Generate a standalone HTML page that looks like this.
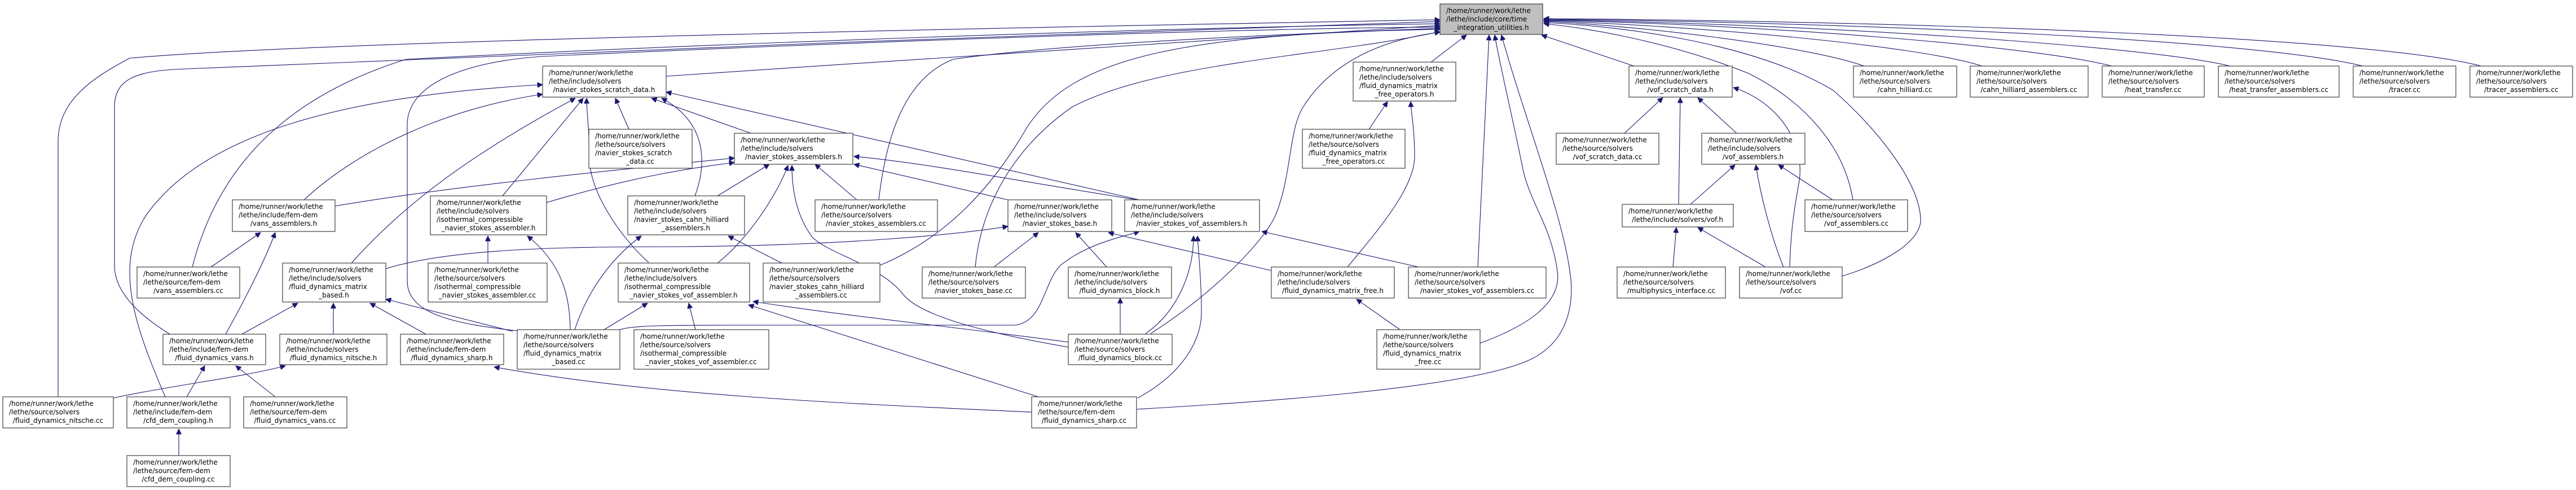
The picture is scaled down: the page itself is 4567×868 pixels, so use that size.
<!DOCTYPE html>
<html><head><meta charset="utf-8"><style>
html,body{margin:0;padding:0;background:#fff;}
svg{display:block}
text{font-family:"DejaVu Sans","Liberation Sans",sans-serif;font-size:12px;fill:#000}
.n{fill:#fff;stroke:#404040;stroke-width:1.2}
.e{fill:none;stroke:#191970;stroke-width:1.1;marker-end:url(#ah)}
.m{text-anchor:middle}
</style></head><body>
<svg width="4567" height="868" viewBox="0 0 4567 868" xmlns="http://www.w3.org/2000/svg">
<defs><marker id="ah" viewBox="0 0 10 10" refX="10" refY="5" markerWidth="11" markerHeight="9" markerUnits="userSpaceOnUse" orient="auto"><path d="M0,0 L10,5 L0,10 z" fill="#191970" stroke="#191970"/></marker></defs>

<!-- edges to root -->
<path class="e" d="M103,703 L103,250 C103,180 160,140 230,103 C600,70 2000,45 2553,35"/>
<path class="e" d="M301,592 C250,560 203,520 203,470 L203,190 C203,140 240,125 330,122 C800,100 2000,55 2553,38"/>
<path class="e" d="M341,473 C380,320 480,180 720,105 C1200,80 2000,50 2553,42"/>
<path class="e" d="M1181,135 C1700,100 2300,60 2553,45"/>
<path class="e" d="M917,586 C820,575 722,560 722,498 L722,221 C722,150 820,110 960,100 C1500,75 2200,50 2553,48"/>
<path class="e" d="M1558,354 C1570,250 1600,140 1690,105 C1900,75 2300,60 2553,50"/>
<path class="e" d="M1729,473 C1740,360 1800,260 1900,190 C2050,110 2350,100 2553,56"/>
<path class="e" d="M1560,470 C1680,420 1760,330 1820,227 C1900,100 2100,60 2553,52"/>
<path class="e" d="M2040,591 C2150,520 2240,430 2262,380 C2290,310 2285,230 2310,190 C2360,110 2450,70 2553,57"/>
<path class="e" d="M2537,110 L2600,62"/>
<path class="e" d="M2620,473 L2640,62"/>
<path class="e" d="M2624,608 C2700,580 2770,540 2761,480 C2750,400 2713,360 2700,300 C2680,200 2660,120 2650,62"/>
<path class="e" d="M2015,725 C2200,714 2600,690 2713,637 C2790,600 2790,520 2783,480 C2770,380 2700,200 2662,62"/>
<path class="e" d="M2897,117 L2733,62"/>
<path class="e" d="M3285,354 C3270,260 3200,180 3100,130 C2950,70 2800,48 2737,42"/>
<path class="e" d="M3266,489 C3330,470 3410,430 3405,385 C3400,320 3330,230 3250,160 C3100,70 2850,45 2737,40"/>
<path class="e" d="M3305,117 C3200,80 2900,45 2737,38"/>
<path class="e" d="M3514,117 C3400,80 3000,45 2737,37"/>
<path class="e" d="M3744,117 C3600,80 3100,42 2737,36"/>
<path class="e" d="M3954,117 C3800,80 3200,42 2737,35"/>
<path class="e" d="M4189,117 C4000,70 3300,40 2737,34"/>
<path class="e" d="M4399,117 C4200,65 3400,38 2737,33"/>

<!-- other edges -->
<path class="e" d="M293,703 C240,580 200,470 260,380 C360,240 600,170 962,150"/>
<path class="e" d="M539,354 C640,260 800,190 962,167"/>
<path class="e" d="M1115,229 L1091,174"/>
<path class="e" d="M1331,236 L1155,174"/>
<path class="e" d="M1232,347 C1250,300 1260,220 1173,174"/>
<path class="e" d="M2020,354 L1181,163"/>
<path class="e" d="M891,347 L1034,174"/>
<path class="e" d="M623,466 C700,380 807,288 1020,174"/>
<path class="e" d="M1150,465 C1100,420 1045,340 1045,280 C1045,230 1040,200 1040,174"/>
<path class="e" d="M968,359 C1100,320 1200,300 1302,288"/>
<path class="e" d="M594,365 C800,330 1100,300 1302,280"/>
<path class="e" d="M684,476 C800,440 1000,437 1200,437 C1500,435 1700,415 1787,401"/>
<path class="e" d="M909,587 L684,530"/>
<path class="e" d="M1011,584 C1010,530 1000,470 935,418"/>
<path class="e" d="M1019,584 C1040,520 1080,460 1137,418"/>
<path class="e" d="M1071,584 L1148,537"/>
<path class="e" d="M1099,584 C1120,576 1200,576 1300,576 L1800,576 C1850,570 1850,500 1880,470 C1930,430 1990,420 2020,410"/>
<path class="e" d="M374,473 L462,412"/>
<path class="e" d="M400,592 C440,520 470,460 488,412"/>
<path class="e" d="M429,592 L528,537"/>
<path class="e" d="M591,592 L591,537"/>
<path class="e" d="M755,592 L656,537"/>
<path class="e" d="M201,705 C320,680 420,670 506,648"/>
<path class="e" d="M331,703 L363,648"/>
<path class="e" d="M488,703 L418,648"/>
<path class="e" d="M317,807 L317,760"/>
<path class="e" d="M1829,730 C1500,715 1150,700 876,650"/>
<path class="e" d="M865,466 L865,418"/>
<path class="e" d="M1272,347 L1364,291"/>
<path class="e" d="M1272,466 C1330,420 1380,340 1397,293"/>
<path class="e" d="M1519,354 L1445,291"/>
<path class="e" d="M1787,354 L1514,291"/>
<path class="e" d="M2017,354 C1800,320 1650,290 1514,277"/>
<path class="e" d="M1386,466 L1291,418"/>
<path class="e" d="M1894,615 C1750,590 1630,560 1600,520 C1560,470 1470,450 1440,420 C1410,380 1404,330 1404,293"/>
<path class="e" d="M1233,584 L1221,537"/>
<path class="e" d="M1894,606 C1700,580 1500,560 1335,534"/>
<path class="e" d="M1841,703 L1327,540"/>
<path class="e" d="M1762,473 L1841,412"/>
<path class="e" d="M1962,473 L1907,412"/>
<path class="e" d="M1986,592 L1986,528"/>
<path class="e" d="M2031,591 C2090,550 2116,480 2116,418"/>
<path class="e" d="M2017,705 C2100,660 2130,600 2130,554 C2130,500 2125,450 2123,418"/>
<path class="e" d="M2515,473 L2237,410"/>
<path class="e" d="M2253,479 L1965,412"/>
<path class="e" d="M2427,229 L2460,180"/>
<path class="e" d="M2389,473 C2450,400 2508,330 2508,277 C2508,230 2502,200 2501,180"/>
<path class="e" d="M2482,584 L2405,530"/>
<path class="e" d="M2880,236 L2948,173"/>
<path class="e" d="M2976,362 L2979,173"/>
<path class="e" d="M3079,236 L3010,173"/>
<path class="e" d="M3173,473 C3175,400 3183,360 3190,320 C3200,250 3150,180 3073,155"/>
<path class="e" d="M2997,362 L3076,292"/>
<path class="e" d="M3249,354 L3153,292"/>
<path class="e" d="M3162,473 C3140,420 3120,340 3113,292"/>
<path class="e" d="M2966,473 L2972,403"/>
<path class="e" d="M3130,473 L3010,403"/>

<!-- nodes -->
<g>
<rect x="2553" y="7" width="182" height="54" fill="#bfbfbf" stroke="#404040" stroke-width="1.2"/>
<text x="2564" y="23">/home/runner/work/lethe</text><text x="2564" y="38">/lethe/include/core/time</text><text class="m" x="2644" y="53">_integration_utilities.h</text>

<rect class="n" x="962" y="117" width="219" height="55"/>
<text x="973" y="133">/home/runner/work/lethe</text><text x="973" y="148">/lethe/include/solvers</text><text class="m" x="1071" y="163">/navier_stokes_scratch_data.h</text>

<rect class="n" x="1044" y="229" width="183" height="69"/>
<text x="1055" y="245">/home/runner/work/lethe</text><text x="1055" y="260">/lethe/source/solvers</text><text x="1055" y="275">/navier_stokes_scratch</text><text class="m" x="1135" y="290">_data.cc</text>

<rect class="n" x="412" y="354" width="182" height="56"/>
<text x="423" y="370">/home/runner/work/lethe</text><text x="423" y="385">/lethe/include/fem-dem</text><text class="m" x="503" y="400">/vans_assemblers.h</text>

<rect class="n" x="763" y="347" width="206" height="69"/>
<text x="774" y="363">/home/runner/work/lethe</text><text x="774" y="378">/lethe/include/solvers</text><text x="774" y="393">/isothermal_compressible</text><text class="m" x="866" y="408">_navier_stokes_assembler.h</text>

<rect class="n" x="243" y="473" width="182" height="55"/>
<text x="254" y="489">/home/runner/work/lethe</text><text x="254" y="504">/lethe/source/fem-dem</text><text class="m" x="334" y="519">/vans_assemblers.cc</text>

<rect class="n" x="501" y="466" width="183" height="69"/>
<text x="512" y="482">/home/runner/work/lethe</text><text x="512" y="497">/lethe/include/solvers</text><text x="512" y="512">/fluid_dynamics_matrix</text><text class="m" x="592" y="527">_based.h</text>

<rect class="n" x="759" y="466" width="211" height="69"/>
<text x="770" y="482">/home/runner/work/lethe</text><text x="770" y="497">/lethe/source/solvers</text><text x="770" y="512">/isothermal_compressible</text><text class="m" x="864" y="527">_navier_stokes_assembler.cc</text>

<rect class="n" x="289" y="592" width="182" height="54"/>
<text x="300" y="608">/home/runner/work/lethe</text><text x="300" y="623">/lethe/include/fem-dem</text><text class="m" x="380" y="638">/fluid_dynamics_vans.h</text>

<rect class="n" x="496" y="592" width="190" height="54"/>
<text x="507" y="608">/home/runner/work/lethe</text><text x="507" y="623">/lethe/include/solvers</text><text class="m" x="591" y="638">/fluid_dynamics_nitsche.h</text>

<rect class="n" x="710" y="592" width="183" height="54"/>
<text x="721" y="608">/home/runner/work/lethe</text><text x="721" y="623">/lethe/include/fem-dem</text><text class="m" x="801" y="638">/fluid_dynamics_sharp.h</text>

<rect class="n" x="917" y="584" width="182" height="70"/>
<text x="928" y="600">/home/runner/work/lethe</text><text x="928" y="615">/lethe/source/solvers</text><text x="928" y="630">/fluid_dynamics_matrix</text><text class="m" x="1008" y="645">_based.cc</text>

<rect class="n" x="5" y="703" width="196" height="55"/>
<text x="16" y="719">/home/runner/work/lethe</text><text x="16" y="734">/lethe/source/solvers</text><text class="m" x="103" y="749">/fluid_dynamics_nitsche.cc</text>

<rect class="n" x="225" y="703" width="183" height="55"/>
<text x="236" y="719">/home/runner/work/lethe</text><text x="236" y="734">/lethe/include/fem-dem</text><text class="m" x="316" y="749">/cfd_dem_coupling.h</text>

<rect class="n" x="432" y="703" width="183" height="55"/>
<text x="443" y="719">/home/runner/work/lethe</text><text x="443" y="734">/lethe/source/fem-dem</text><text class="m" x="523" y="749">/fluid_dynamics_vans.cc</text>

<rect class="n" x="225" y="807" width="183" height="55"/>
<text x="236" y="823">/home/runner/work/lethe</text><text x="236" y="838">/lethe/source/fem-dem</text><text class="m" x="316" y="853">/cfd_dem_coupling.cc</text>

<rect class="n" x="1302" y="236" width="210" height="55"/>
<text x="1313" y="252">/home/runner/work/lethe</text><text x="1313" y="267">/lethe/include/solvers</text><text class="m" x="1407" y="282">/navier_stokes_assemblers.h</text>

<rect class="n" x="1113" y="347" width="207" height="69"/>
<text x="1124" y="363">/home/runner/work/lethe</text><text x="1124" y="378">/lethe/include/solvers</text><text x="1124" y="393">/navier_stokes_cahn_hilliard</text><text class="m" x="1216" y="408">_assemblers.h</text>

<rect class="n" x="1445" y="354" width="217" height="56"/>
<text x="1456" y="370">/home/runner/work/lethe</text><text x="1456" y="385">/lethe/source/solvers</text><text class="m" x="1553" y="400">/navier_stokes_assemblers.cc</text>

<rect class="n" x="1787" y="354" width="184" height="56"/>
<text x="1798" y="370">/home/runner/work/lethe</text><text x="1798" y="385">/lethe/include/solvers</text><text class="m" x="1879" y="400">/navier_stokes_base.h</text>

<rect class="n" x="1994" y="354" width="239" height="56"/>
<text x="2005" y="370">/home/runner/work/lethe</text><text x="2005" y="385">/lethe/include/solvers</text><text class="m" x="2113" y="400">/navier_stokes_vof_assemblers.h</text>

<rect class="n" x="1096" y="466" width="233" height="69"/>
<text x="1107" y="482">/home/runner/work/lethe</text><text x="1107" y="497">/lethe/include/solvers</text><text x="1107" y="512">/isothermal_compressible</text><text class="m" x="1212" y="527">_navier_stokes_vof_assembler.h</text>

<rect class="n" x="1353" y="466" width="207" height="69"/>
<text x="1364" y="482">/home/runner/work/lethe</text><text x="1364" y="497">/lethe/source/solvers</text><text x="1364" y="512">/navier_stokes_cahn_hilliard</text><text class="m" x="1456" y="527">_assemblers.cc</text>

<rect class="n" x="1635" y="473" width="183" height="55"/>
<text x="1646" y="489">/home/runner/work/lethe</text><text x="1646" y="504">/lethe/source/solvers</text><text class="m" x="1726" y="519">/navier_stokes_base.cc</text>

<rect class="n" x="1894" y="473" width="183" height="55"/>
<text x="1905" y="489">/home/runner/work/lethe</text><text x="1905" y="504">/lethe/include/solvers</text><text class="m" x="1985" y="519">/fluid_dynamics_block.h</text>

<rect class="n" x="1124" y="584" width="239" height="70"/>
<text x="1135" y="600">/home/runner/work/lethe</text><text x="1135" y="615">/lethe/source/solvers</text><text x="1135" y="630">/isothermal_compressible</text><text class="m" x="1243" y="645">_navier_stokes_vof_assembler.cc</text>

<rect class="n" x="1894" y="592" width="184" height="54"/>
<text x="1905" y="608">/home/runner/work/lethe</text><text x="1905" y="623">/lethe/source/solvers</text><text class="m" x="1986" y="638">/fluid_dynamics_block.cc</text>

<rect class="n" x="1829" y="703" width="186" height="55"/>
<text x="1840" y="719">/home/runner/work/lethe</text><text x="1840" y="734">/lethe/source/fem-dem</text><text class="m" x="1922" y="749">/fluid_dynamics_sharp.cc</text>

<rect class="n" x="2399" y="110" width="182" height="69"/>
<text x="2410" y="126">/home/runner/work/lethe</text><text x="2410" y="141">/lethe/include/solvers</text><text x="2410" y="156">/fluid_dynamics_matrix</text><text class="m" x="2490" y="171">_free_operators.h</text>

<rect class="n" x="2309" y="229" width="182" height="69"/>
<text x="2320" y="245">/home/runner/work/lethe</text><text x="2320" y="260">/lethe/source/solvers</text><text x="2320" y="275">/fluid_dynamics_matrix</text><text class="m" x="2400" y="290">_free_operators.cc</text>

<rect class="n" x="2254" y="473" width="218" height="55"/>
<text x="2265" y="489">/home/runner/work/lethe</text><text x="2265" y="504">/lethe/include/solvers</text><text class="m" x="2363" y="519">/fluid_dynamics_matrix_free.h</text>

<rect class="n" x="2497" y="473" width="244" height="55"/>
<text x="2508" y="489">/home/runner/work/lethe</text><text x="2508" y="504">/lethe/source/solvers</text><text class="m" x="2619" y="519">/navier_stokes_vof_assemblers.cc</text>

<rect class="n" x="2441" y="584" width="183" height="70"/>
<text x="2452" y="600">/home/runner/work/lethe</text><text x="2452" y="615">/lethe/source/solvers</text><text x="2452" y="630">/fluid_dynamics_matrix</text><text class="m" x="2532" y="645">_free.cc</text>

<rect class="n" x="2888" y="117" width="183" height="55"/>
<text x="2899" y="133">/home/runner/work/lethe</text><text x="2899" y="148">/lethe/include/solvers</text><text class="m" x="2979" y="163">/vof_scratch_data.h</text>

<rect class="n" x="2759" y="236" width="182" height="55"/>
<text x="2770" y="252">/home/runner/work/lethe</text><text x="2770" y="267">/lethe/source/solvers</text><text class="m" x="2850" y="282">/vof_scratch_data.cc</text>

<rect class="n" x="3017" y="236" width="183" height="55"/>
<text x="3028" y="252">/home/runner/work/lethe</text><text x="3028" y="267">/lethe/include/solvers</text><text class="m" x="3108" y="282">/vof_assemblers.h</text>

<rect class="n" x="2876" y="362" width="197" height="40"/>
<text x="2887" y="378">/home/runner/work/lethe</text><text class="m" x="2974" y="393">/lethe/include/solvers/vof.h</text>

<rect class="n" x="3200" y="354" width="182" height="56"/>
<text x="3211" y="370">/home/runner/work/lethe</text><text x="3211" y="385">/lethe/source/solvers</text><text class="m" x="3291" y="400">/vof_assemblers.cc</text>

<rect class="n" x="2867" y="473" width="192" height="55"/>
<text x="2878" y="489">/home/runner/work/lethe</text><text x="2878" y="504">/lethe/source/solvers</text><text class="m" x="2963" y="519">/multiphysics_interface.cc</text>

<rect class="n" x="3084" y="473" width="182" height="55"/>
<text x="3095" y="489">/home/runner/work/lethe</text><text x="3095" y="504">/lethe/source/solvers</text><text class="m" x="3175" y="519">/vof.cc</text>

<rect class="n" x="3286" y="117" width="183" height="55"/>
<text x="3297" y="133">/home/runner/work/lethe</text><text x="3297" y="148">/lethe/source/solvers</text><text class="m" x="3377" y="163">/cahn_hilliard.cc</text>

<rect class="n" x="3493" y="117" width="209" height="55"/>
<text x="3504" y="133">/home/runner/work/lethe</text><text x="3504" y="148">/lethe/source/solvers</text><text class="m" x="3597" y="163">/cahn_hilliard_assemblers.cc</text>

<rect class="n" x="3727" y="117" width="181" height="55"/>
<text x="3738" y="133">/home/runner/work/lethe</text><text x="3738" y="148">/lethe/source/solvers</text><text class="m" x="3817" y="163">/heat_transfer.cc</text>

<rect class="n" x="3933" y="117" width="214" height="55"/>
<text x="3944" y="133">/home/runner/work/lethe</text><text x="3944" y="148">/lethe/source/solvers</text><text class="m" x="4040" y="163">/heat_transfer_assemblers.cc</text>

<rect class="n" x="4172" y="117" width="182" height="55"/>
<text x="4183" y="133">/home/runner/work/lethe</text><text x="4183" y="148">/lethe/source/solvers</text><text class="m" x="4263" y="163">/tracer.cc</text>

<rect class="n" x="4379" y="117" width="182" height="55"/>
<text x="4390" y="133">/home/runner/work/lethe</text><text x="4390" y="148">/lethe/source/solvers</text><text class="m" x="4470" y="163">/tracer_assemblers.cc</text>
</g>
</svg>
</body></html>
